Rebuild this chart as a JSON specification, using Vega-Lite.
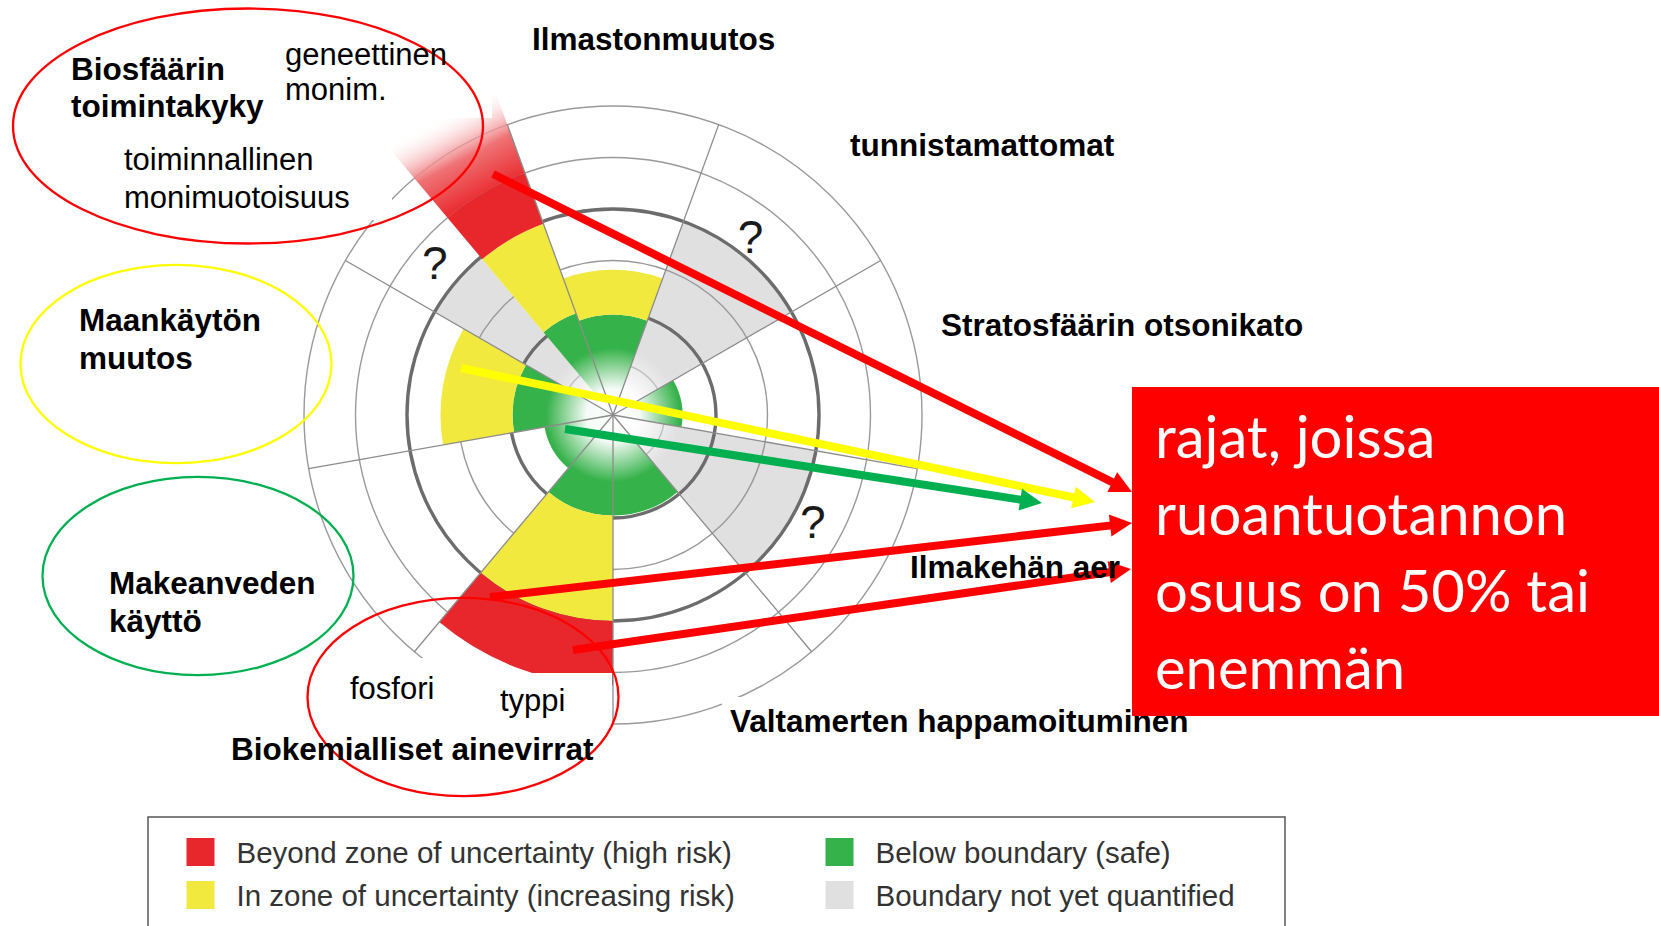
{
"$schema":"https://vega.github.io/schema/vega-lite/v6.json",
"width":1659,"height":926,
"autosize":{"type":"none"},
"padding":0,
"background":"#ffffff",
"config":{"view":{"stroke":null}},
"datasets":{
"sectors":[
{"boundary":"Climate change","status":"safe","t0":-20,"t1":20,"r0":0,"r1":1.95},
{"boundary":"Climate change","status":"uncertain","t0":-20,"t1":20,"r0":1.95,"r1":2.82},
{"boundary":"Novel entities","status":"unknown","t0":20,"t1":60,"r0":0,"r1":4},
{"boundary":"Stratospheric ozone depletion","status":"safe","t0":60,"t1":100,"r0":0,"r1":1.35},
{"boundary":"Atmospheric aerosol loading","status":"unknown","t0":100,"t1":140,"r0":0,"r1":4},
{"boundary":"Ocean acidification","status":"safe","t0":140,"t1":180,"r0":0,"r1":1.95},
{"boundary":"Biogeochemical flows","status":"safe","t0":180,"t1":220,"r0":0,"r1":1.95},
{"boundary":"Biogeochemical flows","status":"uncertain","t0":180,"t1":220,"r0":1.95,"r1":4},
{"boundary":"Biogeochemical flows","status":"high","t0":180,"t1":220,"r0":4,"r1":5.25},
{"boundary":"Freshwater use","status":"safe","t0":220,"t1":260,"r0":0,"r1":1.35},
{"boundary":"Land-system change","status":"safe","t0":260,"t1":300,"r0":0,"r1":1.95},
{"boundary":"Land-system change","status":"uncertain","t0":260,"t1":300,"r0":1.95,"r1":3.35},
{"boundary":"Functional diversity","status":"unknown","t0":300,"t1":320,"r0":0,"r1":4},
{"boundary":"Genetic diversity","status":"safe","t0":320,"t1":340,"r0":0,"r1":2.1},
{"boundary":"Genetic diversity","status":"uncertain","t0":320,"t1":340,"r0":2.1,"r1":3.95},
{"boundary":"Genetic diversity","status":"high","t0":320,"t1":340,"r0":3.95,"r1":5.0}
],
"beyond":[{"boundary":"Genetic diversity","status":"high","t0":320,"t1":340,"r0":5.0,"r1":6.7}],
"core":[{"t0":0,"t1":360,"r":1.3}],
"rings":[{"level":1,"kind":"grid"},{"level":3,"kind":"grid"},{"level":5,"kind":"grid"},{"level":6,"kind":"grid"},{"level":2,"kind":"boundary"},{"level":4,"kind":"boundary"}],
"spokes":[{"a":20,"r":6},{"a":60,"r":6},{"a":100,"r":6},{"a":140,"r":6},{"a":180,"r":6},{"a":220,"r":6},{"a":260,"r":6},{"a":300,"r":6},{"a":340,"r":6}],
"unknowns":[{"boundary":"Novel entities","t":38,"r":4.34,"mark":"?"},{"boundary":"Atmospheric aerosol loading","t":118.6,"r":4.42,"mark":"?"},{"boundary":"Functional diversity","t":310,"r":4.52,"mark":"?"}],
"covers":[{"x":470,"x2":612,"y":673,"y2":790},{"x":330,"x2":470,"y":658,"y2":790},{"x":280,"x2":492,"y":20,"y2":118},{"x":110,"x2":392,"y":140,"y2":220},{"x":722,"x2":1200,"y":697,"y2":745}],
"groupsBig":[{"group":"Biosfäärin toimintakyky","status":"high","x":248,"y":126}],
"groupsSmall":[{"group":"Maankäytön muutos","status":"uncertain","x":176,"y":364},{"group":"Makeanveden käyttö","status":"safe","x":198,"y":576},{"group":"Biokemialliset ainevirrat","status":"high","x":463,"y":697}],
"arrows":[
{"from":"Geneettinen monimuotoisuus","status":"high","x":493,"y":174,"x2":1121.3,"y2":486.7,"tx":1132,"ty":492,"dir":26.46},
{"from":"Maankäytön muutos","status":"uncertain","x":461,"y":368,"x2":1083.3,"y2":499.5,"tx":1095,"ty":502,"dir":11.93},
{"from":"Makeanveden käyttö","status":"safe","x":565,"y":429,"x2":1030.1,"y2":501.2,"tx":1042,"ty":503,"dir":8.82},
{"from":"Fosfori","status":"high","x":490,"y":597,"x2":1120.1,"y2":524.4,"tx":1132,"ty":523,"dir":-6.58},
{"from":"Typpi","status":"high","x":573,"y":650,"x2":1119.1,"y2":570.7,"tx":1131,"ty":569,"dir":-8.26}
],
"titles":[
{"text":"Ilmastonmuutos","x":532,"y":50},
{"text":"tunnistamattomat","x":850,"y":156},
{"text":"Stratosfäärin otsonikato","x":941,"y":336},
{"text":"Ilmakehän aerosolit","x":910,"y":578},
{"text":"Valtamerten happamoituminen","x":730,"y":732},
{"text":"Biokemialliset ainevirrat","x":231,"y":760},
{"text":"Makeanveden","x":109,"y":594},
{"text":"käyttö","x":109,"y":632},
{"text":"Maankäytön","x":79,"y":331},
{"text":"muutos","x":79,"y":369},
{"text":"Biosfäärin","x":71,"y":80},
{"text":"toimintakyky","x":71,"y":117}
],
"sublabels":[
{"text":"geneettinen","x":285,"y":65},
{"text":"monim.","x":285,"y":100},
{"text":"toiminnallinen","x":124,"y":170},
{"text":"monimuotoisuus","x":124,"y":208},
{"text":"fosfori","x":350,"y":699},
{"text":"typpi","x":500,"y":711}
],
"note":[{"x":1132,"x2":1659,"y":387,"y2":716}],
"noteText":[
{"line":"rajat, joissa","x":1155,"y":458},
{"line":"ruoantuotannon","x":1155,"y":535},
{"line":"osuus on 50% tai","x":1155,"y":612},
{"line":"enemmän","x":1155,"y":689}
],
"legendFrame":[{"x":148,"x2":1285,"y":817,"y2":940}],
"legendItems":[
{"status":"high","label":"Beyond zone of uncertainty (high risk)","x":200.5,"y":852},
{"status":"uncertain","label":"In zone of uncertainty (increasing risk)","x":200.5,"y":895},
{"status":"safe","label":"Below boundary (safe)","x":839.5,"y":852},
{"status":"unknown","label":"Boundary not yet quantified","x":839.5,"y":895}
]
},
"layer":[
{"data":{"name":"sectors"},"transform":[{"filter":"datum.status === 'unknown'"}],
 "mark":{"type":"arc"},
 "encoding":{
  "x":{"datum":613,"type":"quantitative","scale":{"domain":[0,1659],"nice":false,"zero":false},"axis":null},
  "y":{"datum":415,"type":"quantitative","scale":{"domain":[0,926],"nice":false,"zero":false,"reverse":true},"axis":null},
  "theta":{"field":"t0","type":"quantitative","scale":{"domain":[0,360],"range":[0,6.283185307179586]}},
  "theta2":{"field":"t1"},
  "radius":{"field":"r1","type":"quantitative","scale":{"type":"linear","domain":[0,6],"range":[0,309],"nice":false,"zero":false}},
  "radius2":{"field":"r0"},
  "fill":{"field":"status","type":"nominal","scale":{"domain":["high","uncertain","safe","unknown"],"range":["#e8272c","#f2e93e","#36b24a","#e0e0e0"]},"legend":null}
 }},
{"data":{"name":"rings"},"transform":[{"filter":"datum.kind === 'grid'"}],
 "mark":{"type":"arc","filled":false,"stroke":"#9a9a9a","strokeWidth":1.4,"theta":0,"theta2":6.283185307179586},
 "encoding":{
  "x":{"datum":613,"type":"quantitative","scale":{"domain":[0,1659],"nice":false,"zero":false},"axis":null},
  "y":{"datum":415,"type":"quantitative","scale":{"domain":[0,926],"nice":false,"zero":false,"reverse":true},"axis":null},
  "radius":{"field":"level","type":"quantitative","stack":null,"scale":{"type":"linear","domain":[0,6],"range":[0,309],"nice":false,"zero":false}}
 }},
{"data":{"name":"rings"},"transform":[{"filter":"datum.kind === 'boundary'"}],
 "mark":{"type":"arc","filled":false,"stroke":"#6c6c6c","strokeWidth":3.4,"theta":0,"theta2":6.283185307179586},
 "encoding":{
  "x":{"datum":613,"type":"quantitative","scale":{"domain":[0,1659],"nice":false,"zero":false},"axis":null},
  "y":{"datum":415,"type":"quantitative","scale":{"domain":[0,926],"nice":false,"zero":false,"reverse":true},"axis":null},
  "radius":{"field":"level","type":"quantitative","stack":null,"scale":{"type":"linear","domain":[0,6],"range":[0,309],"nice":false,"zero":false}}
 }},
{"data":{"name":"sectors"},"transform":[{"filter":"datum.status !== 'unknown'"}],
 "mark":{"type":"arc"},
 "encoding":{
  "x":{"datum":613,"type":"quantitative","scale":{"domain":[0,1659],"nice":false,"zero":false},"axis":null},
  "y":{"datum":415,"type":"quantitative","scale":{"domain":[0,926],"nice":false,"zero":false,"reverse":true},"axis":null},
  "theta":{"field":"t0","type":"quantitative","scale":{"domain":[0,360],"range":[0,6.283185307179586]}},
  "theta2":{"field":"t1"},
  "radius":{"field":"r1","type":"quantitative","scale":{"type":"linear","domain":[0,6],"range":[0,309],"nice":false,"zero":false}},
  "radius2":{"field":"r0"},
  "fill":{"field":"status","type":"nominal","scale":{"domain":["high","uncertain","safe","unknown"],"range":["#e8272c","#f2e93e","#36b24a","#e0e0e0"]},"legend":null}
 }},
{"data":{"name":"beyond"},
 "mark":{"type":"arc","fill":{"gradient":"linear","x1":0.7,"y1":0.8,"x2":0.37,"y2":0.2,"stops":[{"offset":0,"color":"#ea3236"},{"offset":0.45,"color":"#ef7275"},{"offset":1,"color":"rgba(255,255,255,0)"}]}},
 "encoding":{
  "x":{"datum":613,"type":"quantitative","scale":{"domain":[0,1659],"nice":false,"zero":false},"axis":null},
  "y":{"datum":415,"type":"quantitative","scale":{"domain":[0,926],"nice":false,"zero":false,"reverse":true},"axis":null},
  "theta":{"field":"t0","type":"quantitative","scale":{"domain":[0,360],"range":[0,6.283185307179586]}},
  "theta2":{"field":"t1"},
  "radius":{"field":"r1","type":"quantitative","scale":{"type":"linear","domain":[0,6],"range":[0,309],"nice":false,"zero":false}},
  "radius2":{"field":"r0"}
 }},
{"data":{"name":"core"},
 "mark":{"type":"arc","fill":{"gradient":"radial","x1":0.5,"y1":0.5,"r1":0,"x2":0.5,"y2":0.5,"r2":0.5,"stops":[{"offset":0,"color":"#ffffff"},{"offset":0.4,"color":"rgba(255,255,255,0.95)"},{"offset":1,"color":"rgba(255,255,255,0)"}]}},
 "encoding":{
  "x":{"datum":613,"type":"quantitative","scale":{"domain":[0,1659],"nice":false,"zero":false},"axis":null},
  "y":{"datum":415,"type":"quantitative","scale":{"domain":[0,926],"nice":false,"zero":false,"reverse":true},"axis":null},
  "theta":{"field":"t0","type":"quantitative","scale":{"domain":[0,360],"range":[0,6.283185307179586]}},
  "theta2":{"field":"t1"},
  "radius":{"field":"r","type":"quantitative","scale":{"type":"linear","domain":[0,6],"range":[0,309],"nice":false,"zero":false}}
 }},
{"data":{"name":"spokes"},
 "mark":{"type":"arc","filled":false,"stroke":"#8c8c8c","strokeWidth":1.3},
 "encoding":{
  "x":{"datum":613,"type":"quantitative","scale":{"domain":[0,1659],"nice":false,"zero":false},"axis":null},
  "y":{"datum":415,"type":"quantitative","scale":{"domain":[0,926],"nice":false,"zero":false,"reverse":true},"axis":null},
  "theta":{"field":"a","type":"quantitative","scale":{"domain":[0,360],"range":[0,6.283185307179586]}},
  "theta2":{"field":"a"},
  "radius":{"field":"r","type":"quantitative","scale":{"type":"linear","domain":[0,6],"range":[0,309],"nice":false,"zero":false}}
 }},
{"data":{"name":"unknowns"},
 "mark":{"type":"text","font":"Liberation Sans","fontSize":46,"fill":"#1a1a1a","align":"center","baseline":"middle"},
 "encoding":{
  "x":{"datum":613,"type":"quantitative","scale":{"domain":[0,1659],"nice":false,"zero":false},"axis":null},
  "y":{"datum":415,"type":"quantitative","scale":{"domain":[0,926],"nice":false,"zero":false,"reverse":true},"axis":null},
  "theta":{"field":"t","type":"quantitative","scale":{"domain":[0,360],"range":[0,6.283185307179586]}},
  "radius":{"field":"r","type":"quantitative","scale":{"type":"linear","domain":[0,6],"range":[0,309],"nice":false,"zero":false}},
  "text":{"field":"mark"}
 }},
{"data":{"name":"covers"},
 "mark":{"type":"rect","fill":"#ffffff"},
 "encoding":{
  "x":{"field":"x","type":"quantitative","scale":{"domain":[0,1659],"nice":false,"zero":false},"axis":null},
  "x2":{"field":"x2"},
  "y":{"field":"y","type":"quantitative","scale":{"domain":[0,926],"nice":false,"zero":false,"reverse":true},"axis":null},
  "y2":{"field":"y2"}
 }},
{"data":{"name":"groupsBig"},
 "mark":{"type":"point","filled":false,"strokeWidth":2.3,"opacity":1,"shape":"M-1,0A1,0.5,0,1,1,1,0A1,0.5,0,1,1,-1,0Z","size":220900},
 "encoding":{
  "x":{"field":"x","type":"quantitative","scale":{"domain":[0,1659],"nice":false,"zero":false},"axis":null},
  "y":{"field":"y","type":"quantitative","scale":{"domain":[0,926],"nice":false,"zero":false,"reverse":true},"axis":null},
  "color":{"field":"status","type":"nominal","scale":{"domain":["high","uncertain","safe"],"range":["#ff0000","#ffff00","#00b050"]},"legend":null}
 }},
{"data":{"name":"groupsSmall"},
 "mark":{"type":"point","filled":false,"strokeWidth":2.3,"opacity":1,"shape":"M-1,0A1,0.637,0,1,1,1,0A1,0.637,0,1,1,-1,0Z","size":96721},
 "encoding":{
  "x":{"field":"x","type":"quantitative","scale":{"domain":[0,1659],"nice":false,"zero":false},"axis":null},
  "y":{"field":"y","type":"quantitative","scale":{"domain":[0,926],"nice":false,"zero":false,"reverse":true},"axis":null},
  "color":{"field":"status","type":"nominal","scale":{"domain":["high","uncertain","safe"],"range":["#ff0000","#ffff00","#00b050"]},"legend":null}
 }},
{"data":{"name":"arrows"},
 "mark":{"type":"rule","strokeWidth":8,"strokeCap":"butt"},
 "encoding":{
  "x":{"field":"x","type":"quantitative","scale":{"domain":[0,1659],"nice":false,"zero":false},"axis":null},
  "x2":{"field":"x2"},
  "y":{"field":"y","type":"quantitative","scale":{"domain":[0,926],"nice":false,"zero":false,"reverse":true},"axis":null},
  "y2":{"field":"y2"},
  "color":{"field":"status","type":"nominal","scale":{"domain":["high","uncertain","safe"],"range":["#ff0000","#ffff00","#00b050"]},"legend":null}
 }},
{"data":{"name":"arrows"},
 "mark":{"type":"point","filled":true,"opacity":1,"shape":"M0,0L-2,-1L-2,1Z","size":484},
 "encoding":{
  "x":{"field":"tx","type":"quantitative","scale":{"domain":[0,1659],"nice":false,"zero":false},"axis":null},
  "y":{"field":"ty","type":"quantitative","scale":{"domain":[0,926],"nice":false,"zero":false,"reverse":true},"axis":null},
  "angle":{"field":"dir","type":"quantitative","scale":null},
  "color":{"field":"status","type":"nominal","scale":{"domain":["high","uncertain","safe"],"range":["#ff0000","#ffff00","#00b050"]},"legend":null}
 }},
{"data":{"name":"titles"},"transform":[{"filter":"datum.text !== 'Ilmakehän aerosolit'"}],
 "mark":{"type":"text","font":"Liberation Sans","fontWeight":"bold","fontSize":31.5,"fill":"#000000","align":"left","baseline":"alphabetic"},
 "encoding":{
  "x":{"field":"x","type":"quantitative","scale":{"domain":[0,1659],"nice":false,"zero":false},"axis":null},
  "y":{"field":"y","type":"quantitative","scale":{"domain":[0,926],"nice":false,"zero":false,"reverse":true},"axis":null},
  "text":{"field":"text"}
 }},
{"data":{"name":"titles"},"transform":[{"filter":"datum.text === 'Ilmakehän aerosolit'"}],
 "mark":{"type":"text","font":"Liberation Sans","fontWeight":"bold","fontSize":31.5,"fill":"#000000","align":"left","baseline":"alphabetic","limit":220,"ellipsis":" "},
 "encoding":{
  "x":{"field":"x","type":"quantitative","scale":{"domain":[0,1659],"nice":false,"zero":false},"axis":null},
  "y":{"field":"y","type":"quantitative","scale":{"domain":[0,926],"nice":false,"zero":false,"reverse":true},"axis":null},
  "text":{"field":"text"}
 }},
{"data":{"name":"sublabels"},
 "mark":{"type":"text","font":"Liberation Sans","fontSize":31,"fill":"#000000","align":"left","baseline":"alphabetic"},
 "encoding":{
  "x":{"field":"x","type":"quantitative","scale":{"domain":[0,1659],"nice":false,"zero":false},"axis":null},
  "y":{"field":"y","type":"quantitative","scale":{"domain":[0,926],"nice":false,"zero":false,"reverse":true},"axis":null},
  "text":{"field":"text"}
 }},
{"data":{"name":"note"},
 "mark":{"type":"rect","fill":"#ff0000"},
 "encoding":{
  "x":{"field":"x","type":"quantitative","scale":{"domain":[0,1659],"nice":false,"zero":false},"axis":null},
  "x2":{"field":"x2"},
  "y":{"field":"y","type":"quantitative","scale":{"domain":[0,926],"nice":false,"zero":false,"reverse":true},"axis":null},
  "y2":{"field":"y2"}
 }},
{"data":{"name":"noteText"},
 "mark":{"type":"text","font":"Lato","fontSize":58,"fill":"#ffffff","align":"left","baseline":"alphabetic"},
 "encoding":{
  "x":{"field":"x","type":"quantitative","scale":{"domain":[0,1659],"nice":false,"zero":false},"axis":null},
  "y":{"field":"y","type":"quantitative","scale":{"domain":[0,926],"nice":false,"zero":false,"reverse":true},"axis":null},
  "text":{"field":"line"}
 }},
{"data":{"name":"legendFrame"},
 "mark":{"type":"rect","fill":"#ffffff","stroke":"#555555","strokeWidth":1.5},
 "encoding":{
  "x":{"field":"x","type":"quantitative","scale":{"domain":[0,1659],"nice":false,"zero":false},"axis":null},
  "x2":{"field":"x2"},
  "y":{"field":"y","type":"quantitative","scale":{"domain":[0,926],"nice":false,"zero":false,"reverse":true},"axis":null},
  "y2":{"field":"y2"}
 }},
{"data":{"name":"legendItems"},
 "mark":{"type":"point","shape":"square","filled":true,"opacity":1,"size":784},
 "encoding":{
  "x":{"field":"x","type":"quantitative","scale":{"domain":[0,1659],"nice":false,"zero":false},"axis":null},
  "y":{"field":"y","type":"quantitative","scale":{"domain":[0,926],"nice":false,"zero":false,"reverse":true},"axis":null},
  "fill":{"field":"status","type":"nominal","scale":{"domain":["high","uncertain","safe","unknown"],"range":["#e8272c","#f2e93e","#36b24a","#e0e0e0"]},"legend":null}
 }},
{"data":{"name":"legendItems"},
 "mark":{"type":"text","font":"Liberation Sans","fontSize":29.5,"fill":"#333333","align":"left","baseline":"alphabetic","dx":36,"dy":11},
 "encoding":{
  "x":{"field":"x","type":"quantitative","scale":{"domain":[0,1659],"nice":false,"zero":false},"axis":null},
  "y":{"field":"y","type":"quantitative","scale":{"domain":[0,926],"nice":false,"zero":false,"reverse":true},"axis":null},
  "text":{"field":"label"}
 }}
]
}
